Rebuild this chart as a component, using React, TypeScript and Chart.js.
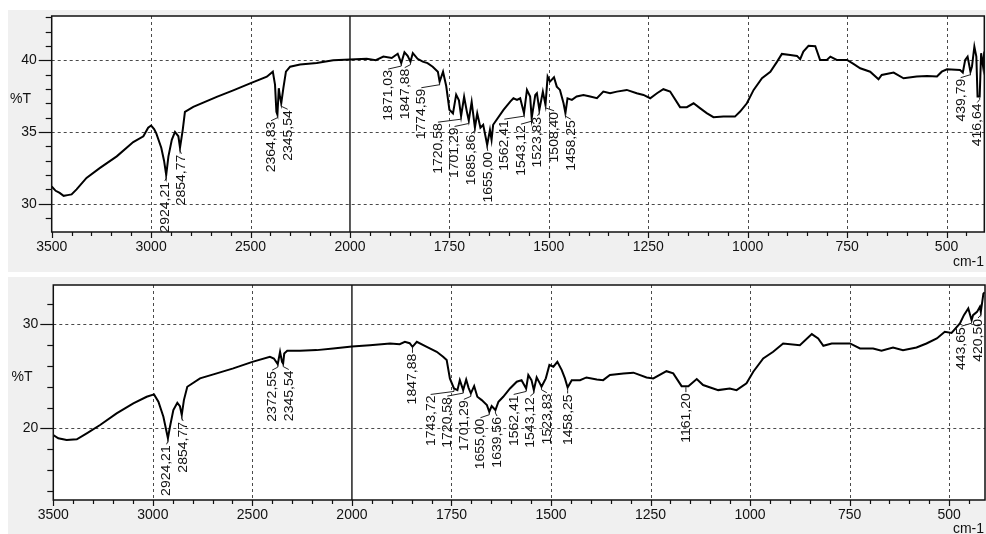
import React, { useEffect, useRef } from 'react';
import { Chart, registerables } from 'chart.js';

Chart.register(...registerables);

// ---------------- DATA ----------------
const xTickWavenumbers = [3500, 3000, 2500, 2000, 1750, 1500, 1250, 1000, 750, 500];
const topYTicks = [30, 35, 40];
const bottomYTicks = [20, 30];

const topWavenumbers = [
  3500, 3480, 3460, 3440, 3420, 3400, 3375, 3325, 3257, 3173, 3090, 3039, 3015, 3000, 2985, 2974, 2949, 2935,
  2913, 2896, 2880, 2863, 2841, 2830, 2788, 2670, 2587, 2499, 2418, 2388, 2377, 2370, 2358, 2352, 2335, 2322,
  2301, 2251, 2167, 2084, 2000, 1958, 1935, 1916, 1895, 1880, 1863, 1855, 1842, 1830, 1817, 1805, 1792, 1779,
  1766, 1758, 1750, 1741, 1733, 1726, 1713, 1706, 1694, 1680, 1672, 1665, 1648, 1644, 1640, 1614, 1597, 1589,
  1580, 1572, 1555, 1547, 1534, 1530, 1515, 1503, 1497, 1487, 1480, 1472, 1463, 1453, 1442, 1430, 1413, 1396,
  1379, 1363, 1346, 1329, 1304, 1279, 1262, 1245, 1228, 1212, 1195, 1170, 1153, 1136, 1120, 1103, 1086, 1061,
  1032, 1019, 1002, 985, 964, 943, 926, 914, 893, 876, 868, 860, 847, 830, 818, 801, 792, 776, 750, 734, 717,
  692, 671, 663, 633, 608, 575, 549, 524, 512, 499, 466, 459, 453, 447, 436, 430, 425, 422, 413, 408, 405,
];
const topTransmittance = [
  31.2, 30.9, 30.75, 30.55, 30.6, 30.65, 31.0, 31.8, 32.5, 33.3, 34.3, 34.7, 35.3, 35.45, 35.2, 34.9, 33.9, 33.0,
  33.3, 34.45, 35.0, 34.7, 35.15, 36.4, 36.75, 37.45, 37.9, 38.4, 38.85, 39.2, 38.3, 36.4, 38.05, 37.45, 38.05, 39.2,
  39.55, 39.7, 39.8, 40.0, 40.05, 40.1, 40.0, 40.25, 40.15, 40.45, 40.55, 40.3, 40.5, 40.1, 39.9, 39.8, 39.55, 39.2,
  39.2, 38.2, 36.55, 36.3, 37.6, 37.2, 37.45, 36.4, 37.1, 36.3, 35.3, 35.5, 35.15, 34.45, 35.5, 36.54, 37.12, 37.35,
  37.24, 37.35, 37.93, 37.47, 37.58, 37.7, 37.81, 38.86, 38.51, 38.81, 38.16, 37.93, 37.0, 37.35, 37.24, 37.47, 37.58, 37.47,
  37.35, 37.81, 37.7, 37.81, 37.93, 37.7, 37.58, 37.35, 37.7, 37.98, 37.82, 36.73, 36.73, 37.0, 36.66, 36.31, 36.03, 36.07,
  36.07, 36.42, 37.0, 37.93, 38.75, 39.2, 39.9, 40.44, 40.37, 40.3, 40.07, 40.6, 41.0, 40.97, 40.02, 40.02, 40.25, 40.02, 40.02, 39.74, 39.44,
  39.2, 38.67, 38.97, 39.14, 38.74, 38.86, 38.9, 38.86, 39.2, 39.37, 39.32, 39.14, 40.02, 40.25, 39.55, 40.95, 40.25, 37.47, 40.49, 39.55, 40.6,
];
const topPeakWavenumbers = [
  2924.21, 2854.77, 2364.83, 2345.54, 1871.03, 1847.88, 1774.59, 1720.58, 1701.29, 1685.86, 1655.0,
  1562.41, 1543.12, 1523.83, 1508.4, 1458.25, 439.79, 416.64,
];
const topPeakTransmittance = [
  32.0, 33.9, 36.2, 37.0, 39.8, 39.9, 38.5, 36.1, 35.8, 35.3, 34.1,
  36.31, 35.96, 36.54, 36.89, 36.31, 39.2, 37.47,
];

const bottomWavenumbers = [
  3500, 3475, 3433, 3382, 3332, 3265, 3182, 3098, 3031, 2994, 2972, 2947, 2914, 2897, 2877, 2864, 2844, 2827,
  2763, 2679, 2596, 2500, 2412, 2392, 2361, 2351, 2340, 2325, 2261, 2177, 2094, 2000, 1955, 1904, 1880, 1867,
  1855, 1837, 1812, 1787, 1771, 1762, 1754, 1735, 1729, 1713, 1707, 1693, 1685, 1674, 1661, 1649, 1632, 1620,
  1603, 1586, 1574, 1557, 1549, 1536, 1528, 1513, 1504, 1494, 1484, 1473, 1465, 1448, 1427, 1411, 1385, 1369,
  1352, 1318, 1293, 1260, 1243, 1210, 1193, 1172, 1155, 1134, 1118, 1080, 1051, 1034, 1009, 992, 967, 942, 917,
  875, 845, 829, 816, 795, 774, 749, 724, 691, 670, 641, 616, 582, 557, 531, 511, 494, 473, 463, 452, 440, 430,
  423, 414, 411,
];
const bottomTransmittance = [
  19.36, 19.04, 18.87, 18.94, 19.52, 20.32, 21.44, 22.4, 23.04, 23.27, 22.56, 21.12, 20.15, 21.76, 22.46, 22.14, 22.72, 24.0,
  24.81, 25.29, 25.77, 26.4, 26.88, 26.72, 27.37, 26.4, 27.2, 27.46, 27.46, 27.53, 27.69, 27.88, 28.0, 28.17, 28.1, 28.33,
  28.2, 28.33, 27.85, 27.37, 26.9, 26.57, 24.81, 23.68, 24.64, 24.7, 23.9, 24.07, 23.04, 22.72, 22.24, 22.14, 22.56, 23.04,
  23.84, 24.49, 24.64, 25.13, 24.64, 24.9, 24.33, 24.81, 26.1, 25.93, 26.41, 25.61, 24.81, 24.64, 24.64, 24.9, 24.7, 24.64,
  25.13, 25.29, 25.36, 24.9, 24.81, 25.5, 25.29, 24.06, 24.06, 24.75, 24.17, 23.68, 23.84, 23.68, 24.33, 25.45, 26.73, 27.37, 28.17,
  28.01, 29.07, 28.65, 27.95, 28.17, 28.17, 28.17, 27.69, 27.69, 27.47, 27.79, 27.53, 27.79, 28.17, 28.65, 29.29, 29.19, 30.09, 30.9, 31.54, 30.9, 31.21,
  31.7, 32.96, 33.1,
];
const bottomPeakWavenumbers = [
  2924.21, 2854.77, 2372.55, 2345.54, 1847.88, 1743.72, 1720.58, 1701.29, 1655.0, 1639.56,
  1562.41, 1543.12, 1523.83, 1458.25, 1161.2, 443.65, 420.5,
];
const bottomPeakTransmittance = [
  19.04, 21.28, 26.18, 26.24, 27.85, 23.84, 23.68, 23.37, 21.6, 21.76,
  23.84, 23.68, 24.0, 23.94, 24.06, 30.41, 31.2,
];

// ---------------- AXIS TRANSFORM (split FTIR scale: 500 cm-1 per division above 2000, 250 below) ----------------
const toU = (wn: number) => (wn >= 2000 ? (3500 - wn) / 5 : 300 + (2000 - wn) / 2.5);
const fromU = (u: number) => (u <= 300 ? 3500 - 5 * u : 2000 - 2.5 * (u - 300));

const FONT = '"Liberation Sans", Arial, Helvetica, sans-serif';

type Layout = {
  width: number; height: number; padTop: number; padRight: number;
  yAxisWidth: number; xAxisHeight: number; yMin: number; yMax: number;
  yMinorStep: number; xEndWn: number; unitX: number; unitY: number; cmY: number;
};

const TOP_LAYOUT: Layout = {
  width: 978, height: 262, padTop: 6, padRight: 1.7, yAxisWidth: 43.7, xAxisHeight: 40,
  yMin: 28.03, yMax: 43.08, yMinorStep: 1, xEndWn: 405, unitX: 2, unitY: 89, cmY: 252,
};
const BOTTOM_LAYOUT: Layout = {
  width: 978, height: 257, padTop: 8, padRight: 1, yAxisWidth: 45.3, xAxisHeight: 34,
  yMin: 13.1, yMax: 33.8, yMinorStep: 2, xEndWn: 410, unitX: 3.5, unitY: 100, cmY: 252,
};

const fmtPeak = (v: number) => v.toFixed(2).replace('.', ',');

function spreadLabels(xs: number[], gap: number, minX: number, maxX: number): number[] {
  type C = { sum: number; n: number; first: number; start: number };
  const place = (c: C) => {
    let s = c.sum / c.n - ((c.n - 1) * gap) / 2 - (c.n > 6 ? 8 : 0);
    s = Math.min(s, maxX - (c.n - 1) * gap);
    s = Math.max(s, minX);
    c.start = s;
  };
  const cl: C[] = [];
  xs.forEach((x, i) => {
    const c: C = { sum: x, n: 1, first: i, start: x };
    place(c);
    cl.push(c);
    while (cl.length > 1) {
      const cur = cl[cl.length - 1];
      const prev = cl[cl.length - 2];
      if (prev.start + (prev.n - 1) * gap + gap > cur.start) {
        const m: C = { sum: prev.sum + cur.sum, n: prev.n + cur.n, first: prev.first, start: 0 };
        place(m);
        cl.splice(cl.length - 2, 2, m);
      } else break;
    }
  });
  const out: number[] = [];
  cl.forEach((c) => { for (let k = 0; k < c.n; k++) out.push(c.start + k * gap); });
  return out;
}

function SpectrumChart(props: {
  layout: Layout; wn: number[]; t: number[]; peakWn: number[]; peakT: number[]; yTicks: number[];
}) {
  const ref = useRef<HTMLCanvasElement | null>(null);
  useEffect(() => {
    const { layout, wn, t, peakWn, peakT, yTicks } = props;
    const canvas = ref.current!;
    const pts = wn.map((w, i) => ({ x: toU(w), y: t[i] }))
      .concat(peakWn.map((w, i) => ({ x: toU(w), y: peakT[i] })))
      .sort((a, b) => a.x - b.x);

    const decor = {
      id: 'ftirDecor',
      beforeDraw(chart: any) {
        const { ctx, chartArea: a } = chart;
        ctx.save();
        ctx.fillStyle = '#ffffff';
        ctx.fillRect(a.left, a.top, a.right - a.left, a.bottom - a.top);
        ctx.restore();
      },
      beforeDatasetsDraw(chart: any) {
        const { ctx, chartArea: a, scales } = chart;
        const xs = scales.x, ys = scales.y;
        ctx.save();
        ctx.strokeStyle = '#4a4a4a';
        ctx.lineWidth = 1;
        ctx.setLineDash([3, 3]);
        xTickWavenumbers.forEach((w) => {
          if (w === 3500 || w === 2000) return;
          const x = Math.round(xs.getPixelForValue(toU(w))) + 0.5;
          ctx.beginPath(); ctx.moveTo(x, a.top); ctx.lineTo(x, a.bottom); ctx.stroke();
        });
        yTicks.forEach((v) => {
          const y = Math.round(ys.getPixelForValue(v)) + 0.5;
          ctx.beginPath(); ctx.moveTo(a.left, y); ctx.lineTo(a.right, y); ctx.stroke();
        });
        ctx.setLineDash([]);
        ctx.strokeStyle = '#222';
        ctx.lineWidth = 1.5;
        const x2 = xs.getPixelForValue(toU(2000));
        ctx.beginPath(); ctx.moveTo(x2, a.top); ctx.lineTo(x2, a.bottom); ctx.stroke();
        ctx.restore();
      },
      afterDatasetsDraw(chart: any) {
        const { ctx, chartArea: a, scales } = chart;
        const xs = scales.x, ys = scales.y;
        ctx.save();
        // frame
        ctx.strokeStyle = '#111';
        ctx.lineWidth = 1.5;
        ctx.strokeRect(a.left, a.top, a.right - a.left, a.bottom - a.top);
        // y ticks
        ctx.lineWidth = 1.2;
        for (let v = Math.ceil(layout.yMin / layout.yMinorStep) * layout.yMinorStep; v <= layout.yMax; v += layout.yMinorStep) {
          const y = Math.round(ys.getPixelForValue(v)) + 0.5;
          const major = yTicks.includes(v);
          ctx.beginPath(); ctx.moveTo(a.left - (major ? 13 : 6), y); ctx.lineTo(a.left, y); ctx.stroke();
        }
        // x ticks
        for (let u = 0; u <= xs.max; u += 20) {
          const x = Math.round(xs.getPixelForValue(u)) + 0.5;
          const major = u % 100 === 0;
          ctx.beginPath(); ctx.moveTo(x, a.bottom); ctx.lineTo(x, a.bottom + (major ? 6 : 4)); ctx.stroke();
        }
        // axis titles
        ctx.fillStyle = '#111';
        ctx.font = `14px ${FONT}`;
        ctx.textBaseline = 'middle';
        ctx.textAlign = 'left';
        ctx.fillText('%T', layout.unitX, layout.unitY);
        ctx.textAlign = 'right';
        ctx.fillText('cm-1', chart.width - 2, layout.cmY);

        // peak labels
        const order = peakWn.map((w, i) => i).sort((i, j) => toU(peakWn[i]) - toU(peakWn[j]));
        const px = order.map((i) => xs.getPixelForValue(toU(peakWn[i])));
        const py = order.map((i) => ys.getPixelForValue(peakT[i]));
        const lx = spreadLabels(px, 16.6, a.left + 8, a.right - 7);
        ctx.strokeStyle = '#222';
        ctx.lineWidth = 1;
        ctx.font = `12.5px ${FONT}`;
        ctx.textAlign = 'right';
        ctx.textBaseline = 'middle';
        order.forEach((idx, k) => {
          const ty = py[k] + 7;
          ctx.beginPath();
          ctx.moveTo(px[k], py[k] + 1);
          ctx.lineTo(px[k], py[k] + 3);
          ctx.lineTo(lx[k], ty - 1);
          ctx.stroke();
          ctx.save();
          ctx.translate(lx[k], ty);
          ctx.rotate(-Math.PI / 2);
          ctx.scale(1.12, 1);
          ctx.fillText(fmtPeak(peakWn[idx]), 0, 0.5);
          ctx.restore();
        });
        ctx.restore();
      },
    };

    const tickFont = { family: FONT, size: 14 };
    const chart = new Chart(canvas, {
      type: 'line',
      data: {
        datasets: [{
          data: pts,
          borderColor: '#000',
          borderWidth: 2,
          pointRadius: 0,
          fill: false,
          tension: 0,
        }],
      },
      options: {
        animation: false,
        responsive: false,
        events: [],
        layout: { padding: { top: layout.padTop, right: layout.padRight, left: 0, bottom: 0 } },
        plugins: { legend: { display: false }, tooltip: { enabled: false } },
        scales: {
          x: {
            type: 'linear',
            min: 0,
            max: toU(layout.xEndWn),
            afterBuildTicks: (s: any) => { s.ticks = xTickWavenumbers.map((w) => ({ value: toU(w) })); },
            afterFit: (s: any) => { s.height = layout.xAxisHeight; s.paddingLeft = 0; s.paddingRight = 0; },
            ticks: {
              autoSkip: false, maxRotation: 0, padding: 1, color: '#111', font: tickFont,
              callback: (v: any) => String(Math.round(fromU(Number(v)))),
            },
            grid: { display: true, drawOnChartArea: false, drawTicks: true, tickLength: 6, tickColor: 'rgba(0,0,0,0)' },
            border: { display: false },
          },
          y: {
            type: 'linear',
            min: layout.yMin,
            max: layout.yMax,
            afterBuildTicks: (s: any) => { s.ticks = yTicks.map((v) => ({ value: v })); },
            afterFit: (s: any) => { s.width = layout.yAxisWidth; s.paddingTop = 0; s.paddingBottom = 0; },
            ticks: { padding: 3, color: '#111', font: tickFont, callback: (v: any) => String(v) },
            grid: { display: true, drawOnChartArea: false, drawTicks: true, tickLength: 12, tickColor: 'rgba(0,0,0,0)' },
            border: { display: false },
          },
        },
      } as any,
      plugins: [decor as any],
    });
    return () => chart.destroy();
  }, []);
  return (
    <canvas
      ref={ref}
      width={props.layout.width}
      height={props.layout.height}
      style={{ display: 'block', width: props.layout.width, height: props.layout.height }}
    />
  );
}

export default function App() {
  return (
    <div style={{ position: 'absolute', left: 0, top: 0, width: 986, height: 534, background: '#ffffff', overflow: 'hidden' }}>
      <div style={{ position: 'absolute', left: 8, top: 10, width: 978, height: 262, background: '#f0f0f0' }}>
        <SpectrumChart layout={TOP_LAYOUT} wn={topWavenumbers} t={topTransmittance}
          peakWn={topPeakWavenumbers} peakT={topPeakTransmittance} yTicks={topYTicks} />
      </div>
      <div style={{ position: 'absolute', left: 8, top: 277, width: 978, height: 257, background: '#f0f0f0' }}>
        <SpectrumChart layout={BOTTOM_LAYOUT} wn={bottomWavenumbers} t={bottomTransmittance}
          peakWn={bottomPeakWavenumbers} peakT={bottomPeakTransmittance} yTicks={bottomYTicks} />
      </div>
    </div>
  );
}
